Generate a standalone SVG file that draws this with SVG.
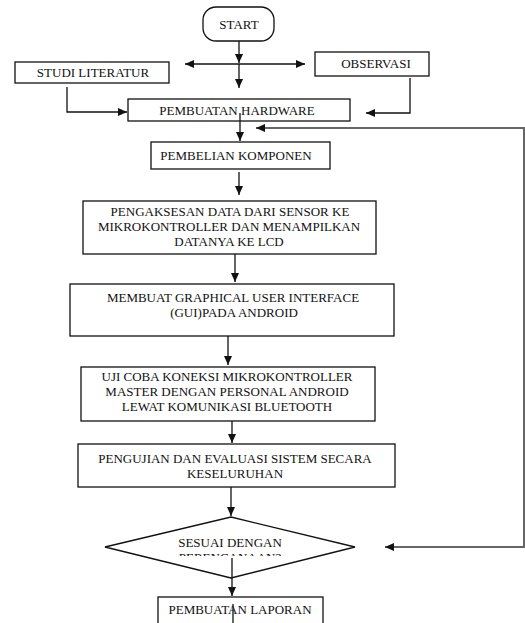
<svg xmlns="http://www.w3.org/2000/svg" width="525" height="623" viewBox="0 0 525 623">
<defs>
<marker id="ah" markerUnits="userSpaceOnUse" markerWidth="10" markerHeight="8" refX="9" refY="4" orient="auto-start-reverse">
<path d="M0,0 L9,4 L0,8 Z" fill="#111"/>
</marker>
<clipPath id="dclip"><rect x="100" y="515" width="260" height="41"/></clipPath>
</defs>
<style>
.box{fill:#fff;stroke:#111;stroke-width:1.3}
.t{font-family:'Liberation Serif','DejaVu Serif',serif;font-size:13px;fill:#111;text-anchor:middle}
.c{fill:none;stroke:#111;stroke-width:1.3}
.loop{fill:none;stroke:#666;stroke-width:2}
</style>
<rect width="525" height="623" fill="#fff"/>
<g font-family="Liberation Serif, serif">
<g id="start"><rect class="box" x="203" y="7" width="71" height="34" rx="13"/><text class="t" x="239" y="29">START</text></g>
<g id="studi"><rect class="box" x="15" y="62" width="154" height="21"/><text class="t" x="93" y="77">STUDI LITERATUR</text></g>
<g id="observasi"><rect class="box" x="315" y="52" width="114" height="24"/><text class="t" x="376" y="68">OBSERVASI</text></g>
<g id="hardware"><rect class="box" x="128" y="99" width="222" height="22"/><text class="t" x="237" y="115">PEMBUATAN HARDWARE</text></g>
<g id="pembelian"><rect class="box" x="151" y="142" width="179" height="27"/><text class="t" x="236" y="160">PEMBELIAN KOMPONEN</text></g>
<g id="pengaksesan"><rect class="box" x="83" y="201" width="293" height="53"/>
<text class="t" x="230" y="216">PENGAKSESAN DATA DARI SENSOR KE</text>
<text class="t" x="229" y="231">MIKROKONTROLLER DAN MENAMPILKAN</text>
<text class="t" x="229" y="246">DATANYA KE LCD</text></g>
<g id="membuat"><rect class="box" x="70" y="284" width="324" height="52"/>
<text class="t" x="233" y="302">MEMBUAT GRAPHICAL USER INTERFACE</text>
<text class="t" x="234" y="317">(GUI)PADA ANDROID</text></g>
<g id="ujicoba"><rect class="box" x="81" y="367" width="294" height="54"/>
<text class="t" x="227" y="381">UJI COBA KONEKSI MIKROKONTROLLER</text>
<text class="t" x="227" y="396">MASTER DENGAN PERSONAL ANDROID</text>
<text class="t" x="227" y="411">LEWAT KOMUNIKASI BLUETOOTH</text></g>
<g id="pengujian"><rect class="box" x="78" y="444" width="317" height="43"/>
<text class="t" x="235" y="463">PENGUJIAN DAN EVALUASI SISTEM SECARA</text>
<text class="t" x="235" y="478">KESELURUHAN</text></g>
<g id="sesuai"><polygon class="box" points="231,517 355,547 231,578 105,547"/>
<g clip-path="url(#dclip)">
<text class="t" x="230" y="547">SESUAI DENGAN</text>
<text class="t" x="230" y="562">PERENCANAAN?</text></g></g>
<g id="laporan"><rect class="box" x="158" y="597" width="165" height="30"/><text class="t" x="240" y="614">PEMBUATAN LAPORAN</text></g>
</g>
<g id="connectors">
<path class="c" d="M239,41 V63" marker-end="url(#ah)"/>
<path class="c" d="M185,64 H305" marker-start="url(#ah)" marker-end="url(#ah)"/>
<path class="c" d="M239,64 V88" marker-end="url(#ah)"/>
<path class="c" d="M67,87 V112 H127" marker-end="url(#ah)"/>
<path class="c" d="M410,78 V113 H366" marker-end="url(#ah)"/>
<path class="c" d="M240,113 V141" marker-end="url(#ah)"/>
<path class="loop" d="M385,547 H524 V128 H256" marker-start="url(#ah)" marker-end="url(#ah)"/>
<path class="c" d="M239,172 V195" marker-end="url(#ah)"/>
<path class="c" d="M235,254 V282" marker-end="url(#ah)"/>
<path class="c" d="M228,336 V365" marker-end="url(#ah)"/>
<path class="c" d="M232,421 V443" marker-end="url(#ah)"/>
<path class="c" d="M231,487 V516" marker-end="url(#ah)"/>
<path class="c" d="M232,558 V596" marker-end="url(#ah)"/>
<path class="c" d="M233,604 V623"/>
</g>
</svg>
